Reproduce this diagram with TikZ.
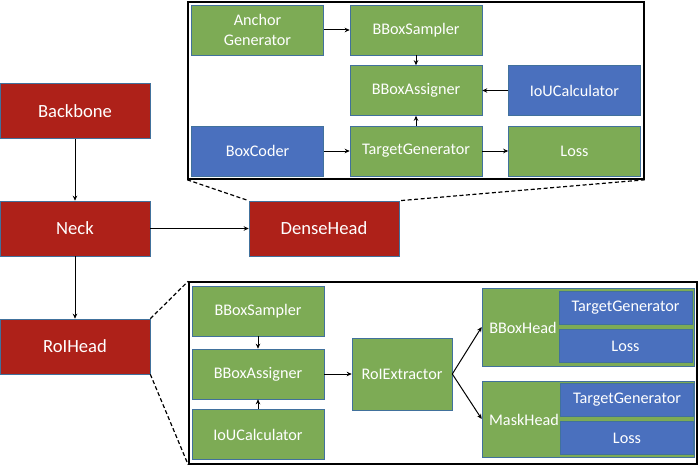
\documentclass[tikz,border=0pt]{standalone}
\usepackage{fontspec}
\setmainfont{Carlito}
\usetikzlibrary{arrows.meta,positioning}
\definecolor{brick}{HTML}{AE2119}
\definecolor{leaf}{HTML}{7DAB55}
\definecolor{steel}{HTML}{4A70BE}
\definecolor{edge}{HTML}{41719C}
\tikzset{
  % Blocks
  blk/.style={draw=edge,line width=0.6pt,text=white,align=center,inner sep=1pt,
              font=\fontsize{16.2}{19.5}\selectfont},
  redbox/.style={blk,fill=brick,minimum width=150pt,minimum height=55pt,
                 font=\fontsize{18.6}{21}\selectfont},
  greenbox/.style={blk,fill=leaf},
  bluebox/.style={blk,fill=steel},
  mid/.style={minimum width=132pt,minimum height=50pt},
  slim/.style={minimum width=133pt,minimum height=33pt},
  headlb/.style={text=white,inner sep=0pt,font=\fontsize{16.2}{19.5}\selectfont},
  % Zoom panels
  panel/.style={draw=black,line width=1.6pt,fill=white,inner sep=0pt},
  % Connectors
  fl/.style={-{Stealth[length=5pt,width=4.5pt]},black,line width=1pt},
  zoomln/.style={black,line width=1.2pt,dash pattern=on 4pt off 2.5pt}
}

\begin{document}
\begin{tikzpicture}[x=1pt,y=-1pt]
  \useasboundingbox (0,0) rectangle (698,468);

  % --- Main column ---
  \node[redbox] (backbone)  at (75,111)    {Backbone};
  \node[redbox] (neck)      at (75,228.5)  {Neck};
  \node[redbox] (roihead)   at (75,346.5)  {RoIHead};
  \node[redbox] (densehead) at (324,228.5) {DenseHead};

  % --- DenseHead panel (top) ---
  \node[panel,minimum width=456pt,minimum height=177pt] (dpanel) at (416,90.5) {};
  \node[greenbox,mid] (anchor)   at (257.5,30) {Anchor\\Generator};
  \node[greenbox,mid] (dsamp)    at (416,30)   {BBoxSampler};
  \node[greenbox,mid] (dassign)  at (416,90.5) {BBoxAssigner};
  \node[bluebox,mid]  (diou)     at (574.5,90.5) {IoUCalculator};
  \node[bluebox,mid]  (boxcoder) at (257.5,151) {BoxCoder};
  \node[greenbox,mid] (dtgen)    at (416,151)  {TargetGenerator};
  \node[greenbox,mid] (dloss)    at (574.5,151) {Loss};

  % --- RoIHead panel (bottom) ---
  \node[panel,minimum width=508pt,minimum height=182pt] (rpanel) at (443,373) {};
  \node[greenbox,mid] (rsamp)   at (258,311)   {BBoxSampler};
  \node[greenbox,mid] (rassign) at (258,374)   {BBoxAssigner};
  \node[greenbox,mid] (riou)    at (258,434.5) {IoUCalculator};
  \node[greenbox,minimum width=100pt,minimum height=72pt] (roiext) at (402,374) {RoIExtractor};

  \node[greenbox,minimum width=212pt,minimum height=78pt] (bboxhead) at (588,327) {};
  \node[headlb] (bboxheadlb) at (523,328) {BBoxHead};
  \node[bluebox,slim] (btgen) at (625.5,307.5) {TargetGenerator};
  \node[bluebox,slim] (bloss) at (625.5,346)   {Loss};

  \node[greenbox,minimum width=212pt,minimum height=76pt] (maskhead) at (588,419) {};
  \node[headlb] (maskheadlb) at (524,420) {MaskHead};
  \node[bluebox,slim] (mtgen) at (627,400) {TargetGenerator};
  \node[bluebox,slim] (mloss) at (627,438) {Loss};

  % --- Main flow ---
  \draw[fl] (backbone) -- (neck);
  \draw[fl] (neck) -- (roihead);
  \draw[fl] (neck) -- (densehead);

  % --- Zoom guides ---
  \draw[zoomln] (dpanel.south west) -- (densehead.north west);
  \draw[zoomln] (dpanel.south east) -- (densehead.north east);
  \draw[zoomln] (roihead.north east) -- (rpanel.north west);
  \draw[zoomln] (roihead.south east) -- (rpanel.south west);

  % --- DenseHead internals ---
  \draw[fl] (anchor) -- (dsamp);
  \draw[fl] (dsamp) -- (dassign);
  \draw[fl] (diou) -- (dassign);
  \draw[fl] (dtgen) -- (dassign);
  \draw[fl] (boxcoder) -- (dtgen);
  \draw[fl] (dtgen) -- (dloss);

  % --- RoIHead internals ---
  \draw[fl] (rsamp) -- (rassign);
  \draw[fl] (riou) -- (rassign);
  \draw[fl] (rassign) -- (roiext);
  \draw[fl] (roiext.east) -- (bboxhead.west);
  \draw[fl] (roiext.east) -- (maskhead.west);
\end{tikzpicture}
\end{document}
